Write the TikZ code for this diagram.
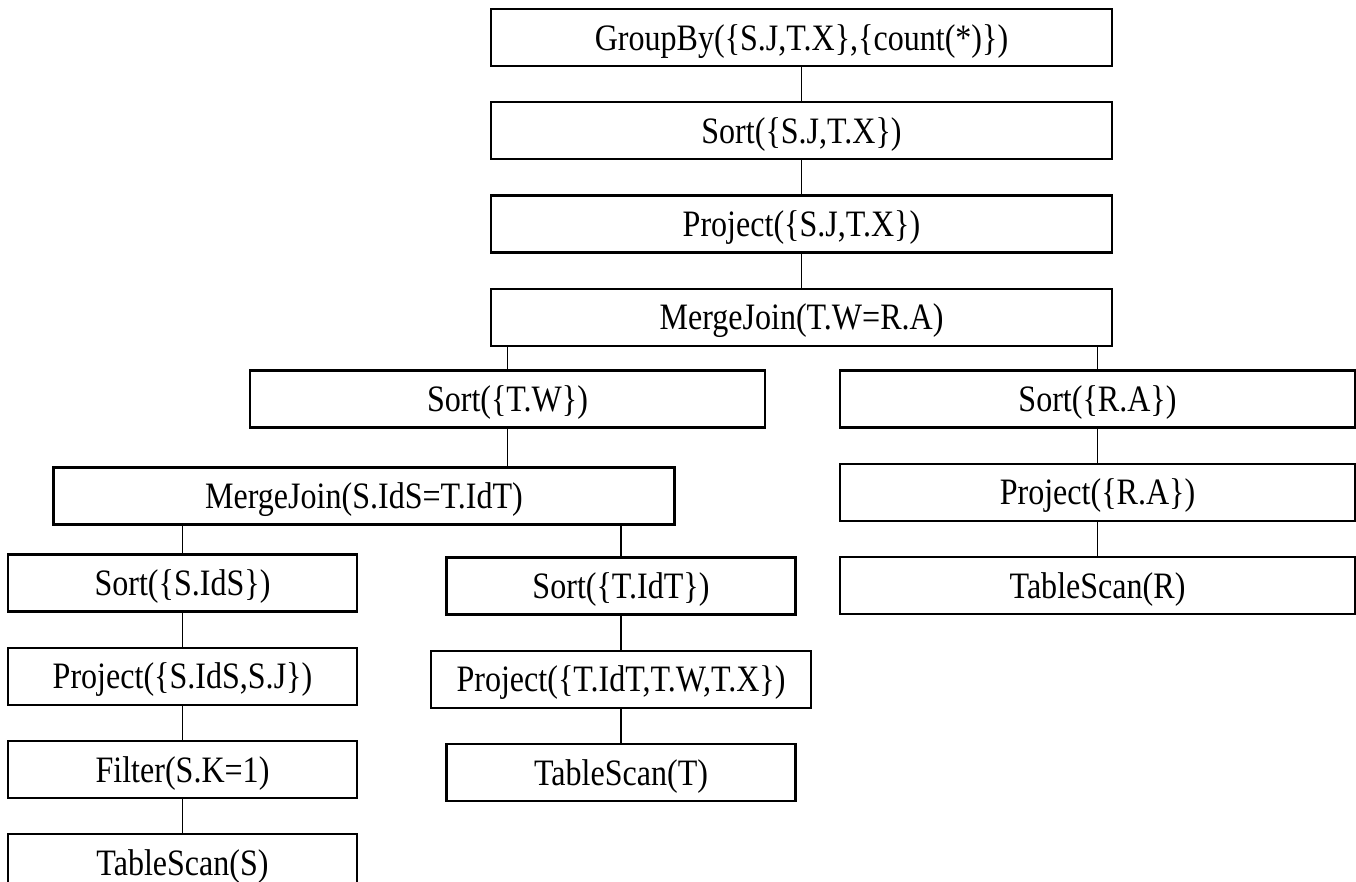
\documentclass[tikz,border=0pt]{standalone}
\usepackage{fontspec}
\setmainfont[FakeStretch=0.86]{Liberation Serif}
\usetikzlibrary{positioning}
\tikzset{
op/.style = {draw, fill=white, rectangle, align=center, line width=1.6pt, minimum height=1.425cm, inner sep=2pt, text height=20.5pt, text depth=2.5pt, font=\fontsize{26.5}{30}\selectfont},
wideop/.style = {op, minimum width=15.525cm},
midop/.style = {op, minimum width=12.875cm},
smallop/.style = {op, minimum width=8.725cm},
link/.style = {line width=1.4pt},
}

\begin{document}
\begin{tikzpicture}[x=0.025cm, y=-0.025cm, node distance=0.85cm]
      \useasboundingbox (0,0) rectangle (1356,882);
      % top chain
      \node [wideop] (groupby) at (801.5,37.5) {GroupBy(\{S.J,T.X\},\{count(*)\})};
      \node [wideop, below=of groupby] (sortjx) {Sort(\{S.J,T.X\})};
      \node [wideop, below=of sortjx] (projjx) {Project(\{S.J,T.X\})};
      \node [wideop, below=of projjx] (joinwa) {MergeJoin(T.W=R.A)};
      % right branch
      \node [midop] (sorta) at (1097.5,399) {Sort(\{R.A\})};
      \node [midop, below=of sorta] (proja) {Project(\{R.A\})};
      \node [midop, below=of proja] (scanr) {TableScan(R)};
      % left branch
      \node [midop] (sortw) at (507.5,399) {Sort(\{T.W\})};
      \node [wideop] (joinst) at (364,496) {MergeJoin(S.IdS=T.IdT)};
      \node [smallop] (sortids) at (182.5,583) {Sort(\{S.IdS\})};
      \node [smallop, below=of sortids] (projsj) {Project(\{S.IdS,S.J\})};
      \node [smallop, below=of projsj] (filter) {Filter(S.K=1)};
      \node [smallop, below=of filter] (scans) {TableScan(S)};
      \node [smallop] (sortidt) at (621,586) {Sort(\{T.IdT\})};
      \node [op, minimum width=9.5cm, below=of sortidt] (projtwx) {Project(\{T.IdT,T.W,T.X\})};
      \node [smallop, below=of projtwx] (scant) {TableScan(T)};
      \draw [link] (groupby) -- (sortjx);
      \draw [link] (sortjx) -- (projjx);
      \draw [link] (projjx) -- (joinwa);
      \draw [link] (joinwa.south -| sortw) -- (sortw);
      \draw [link] (joinwa.south -| sorta) -- (sorta);
      \draw [link] (sorta) -- (proja);
      \draw [link] (proja) -- (scanr);
      \draw [link] (sortw) -- (sortw.south |- joinst.north);
      \draw [link] (joinst.south -| sortids) -- (sortids);
      \draw [link] (joinst.south -| sortidt) -- (sortidt);
      \draw [link] (sortids) -- (projsj);
      \draw [link] (projsj) -- (filter);
      \draw [link] (filter) -- (scans);
      \draw [link] (sortidt) -- (projtwx);
      \draw [link] (projtwx) -- (scant);
\end{tikzpicture}
\end{document}
